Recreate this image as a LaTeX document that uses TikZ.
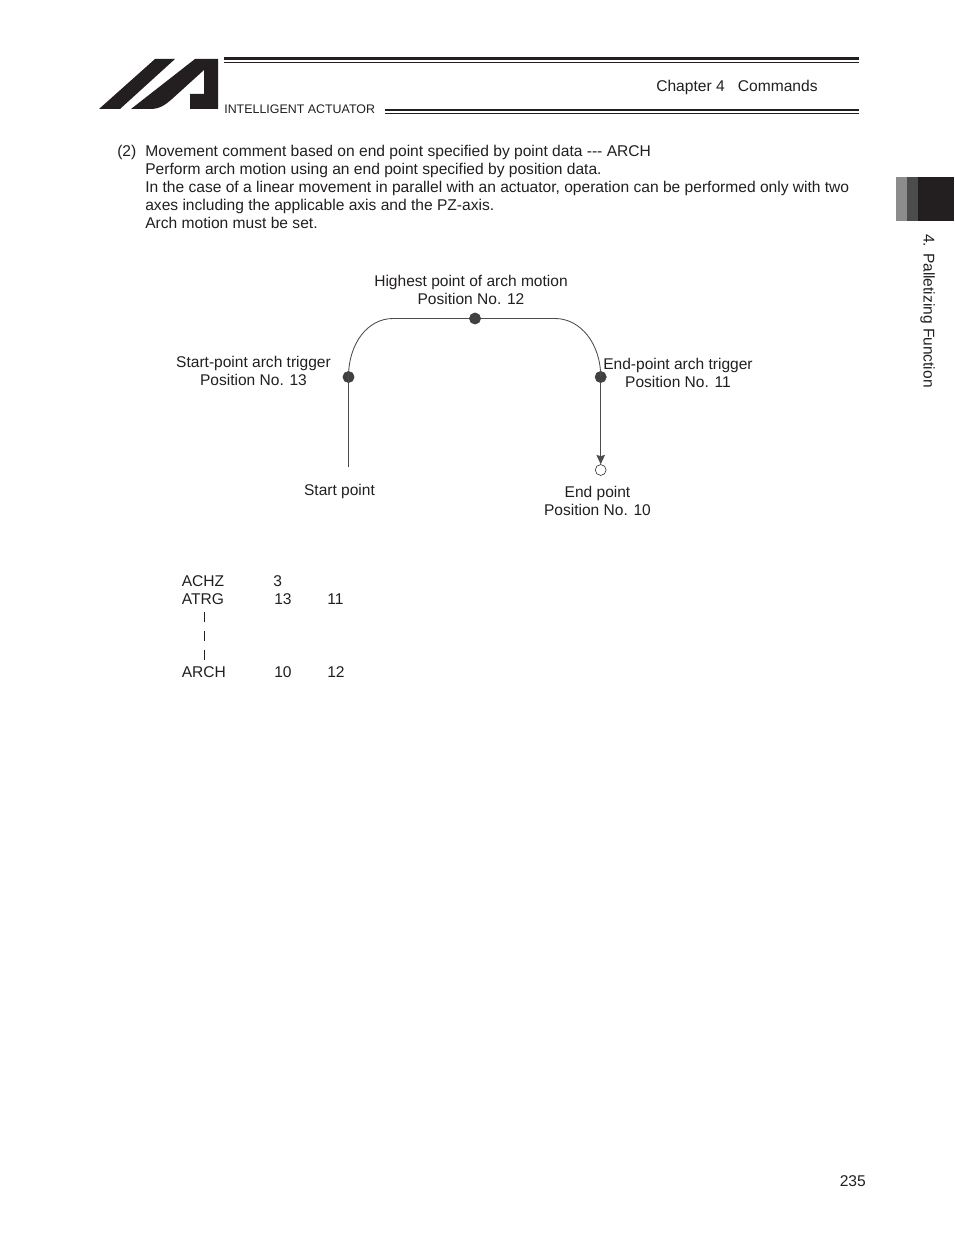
\documentclass[tikz,border=0pt]{standalone}
\usepackage{fontspec}
\setmainfont{Liberation Sans}
\usetikzlibrary{arrows.meta}
\definecolor{inkdark}{HTML}{231F20}
\tikzset{
    bodytext/.style={anchor=base west,inner sep=0pt,font=\fontsize{10.03}{12}\selectfont,text=inkdark},
    labeltext/.style={align=center,inner sep=0pt,font=\fontsize{10}{11.5}\selectfont,text=inkdark},
    trigger/.style={circle,fill=black!75,draw=black!75,minimum size=7.2pt,inner sep=0pt},
    endmark/.style={circle,fill=white,draw=black!80,line width=0.4pt,minimum size=7pt,inner sep=0pt},
    archline/.style={draw=black!70,line width=0.55pt}
}
\begin{document}
\begin{tikzpicture}[x=0.6415bp,y=-0.6415bp]
    \useasboundingbox[fill=white] (0,0) rectangle (954,1235);
    % Logo
    \fill[inkdark] (155,59) -- (175,59) -- (120,109) -- (99,109) -- cycle;
    \fill[inkdark] (195,59) -- (218,59) -- (218,109) -- (190,109) -- (190,94) -- (204,94) -- (204,70) -- (172,99) .. controls (165,105) and (160,109) .. (150,109) -- (131,109) -- cycle;
    % Header rules
    \draw[inkdark,line width=1.5pt] (224,58.5) -- (859,58.5);
    \draw[inkdark,line width=0.5pt] (224,62) -- (859,62);
    \draw[inkdark,line width=1.5pt] (385,110) -- (859,110);
    \draw[inkdark,line width=0.5pt] (385,113) -- (859,113);
    \node[bodytext,font=\fontsize{8}{10}\selectfont] (brand) at (224,114) {INTELLIGENT ACTUATOR};
    \node[bodytext] (chapter) at (656,92) {Chapter 4\hspace{0.85em}Commands};
    % Side tab
    \fill[black!45] (896,177) rectangle (907,221);
    \fill[black!70] (907,177) rectangle (918,221);
    \fill[inkdark] (918,177) rectangle (954,221);
    \node[inner sep=0pt,rotate=-90,anchor=base west,font=\fontsize{10}{12}\selectfont,text=inkdark] (sidelabel) at (923.5,234) {4. Palletizing Function};
    % Intro text
    \node[bodytext] (intro0) at (117,157) {(2)};
    \node[bodytext] (intro1) at (145,157) {Movement comment based on end point specified by point data -{}-{}- ARCH};
    \node[bodytext] (intro2) at (145,175) {Perform arch motion using an end point specified by position data.};
    \node[bodytext] (intro3) at (145,193) {In the case of a linear movement in parallel with an actuator, operation can be performed only with two};
    \node[bodytext] (intro4) at (145,211) {axes including the applicable axis and the PZ-axis.};
    \node[bodytext] (intro5) at (145,229) {Arch motion must be set.};
    % Arch
    \coordinate (startpt) at (348.5,467);
    \node[trigger] (trig13) at (348.5,377) {};
    \node[trigger] (high12) at (475,318.5) {};
    \node[trigger] (trig11) at (600.7,377) {};
    \node[endmark] (end10) at (600.7,470) {};
    \draw[archline] (startpt) -- (trig13.center);
    \draw[archline] (trig13.center) .. controls (348.5,343) and (368,318.5) .. (393,318.5) -- (high12);
    \draw[archline] (high12) -- (555,318.5) .. controls (580,318.5) and (600.7,343) .. (trig11.center);
    \draw[archline,-{Stealth[length=6pt,width=5.5pt,inset=0.8pt]}] (trig11) -- (end10);
    % Labels
    \node[labeltext] (highlabel) at (471,290) {Highest point of arch motion\\Position No. 12};
    \node[labeltext] (startlabel) at (253.5,371) {Start-point arch trigger\\Position No. 13};
    \node[labeltext] (endlabel) at (678,373) {End-point arch trigger\\Position No. 11};
    \node[labeltext] (startname) at (339.5,491) {Start point};
    \node[labeltext] (endname) at (597.5,501) {End point\\Position No. 10};
    % Program lines
    \node[bodytext] (achz) at (181.5,586) {ACHZ};
    \node[bodytext] (atrg) at (181.5,604) {ATRG};
    \node[bodytext] (arch) at (181.5,677) {ARCH};
    \node[bodytext] (val3) at (273,586) {3};
    \node[bodytext] (val13) at (274,604) {13};
    \node[bodytext] (val11) at (327,604) {11};
    \node[bodytext] (val10) at (274,677) {10};
    \node[bodytext] (val12) at (327,677) {12};
    \foreach \y in {612,631,650}
        \draw[inkdark,line width=0.5pt] (204.5,\y) -- (204.5,\y+9.5);
    % Page number
    \node[bodytext] (pagenum) at (839.5,1186) {235};
\end{tikzpicture}
\end{document}
